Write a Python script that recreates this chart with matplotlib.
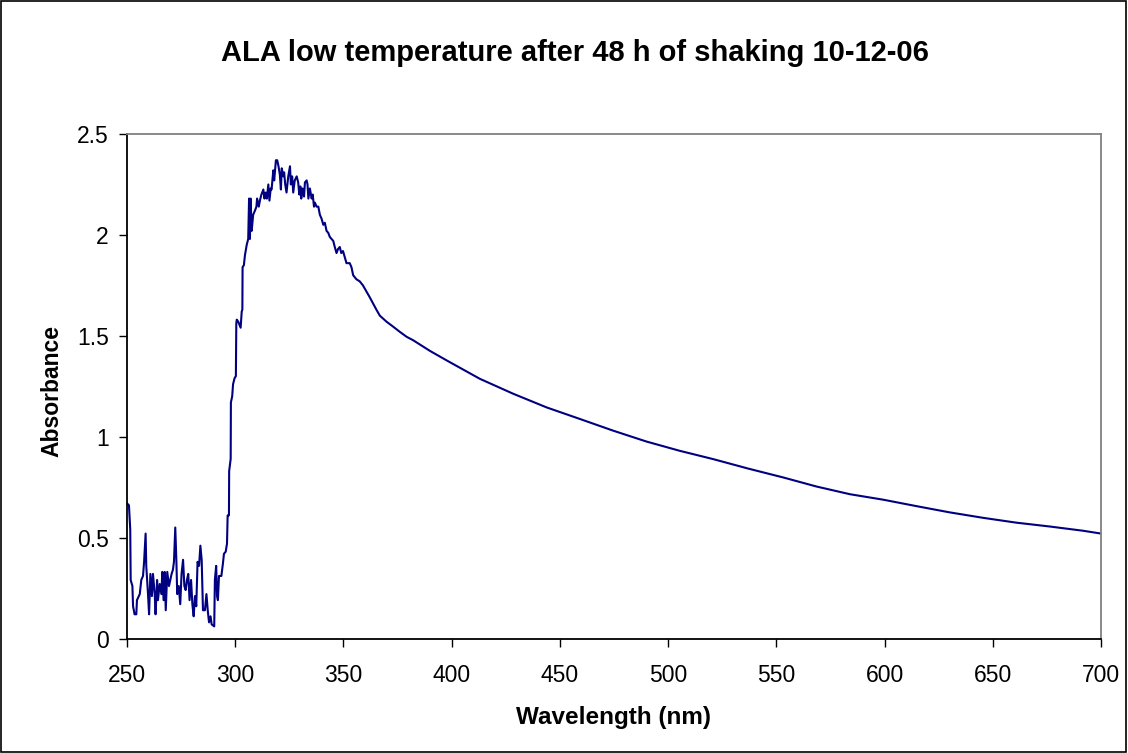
import matplotlib.pyplot as plt
import numpy as np
from matplotlib.patches import Rectangle

plt.rcParams['font.family'] = ['Liberation Sans', 'DejaVu Sans']

# Absorbance spectrum
wavelength = [250.0, 250.9, 251.5, 251.7, 252.5, 252.8, 253.5, 254.3, 254.6, 255.9,
              256.6, 257.4, 257.9, 258.6, 258.9, 259.7, 260.2, 260.8, 261.5, 262.0,
              262.8, 263.2, 263.9, 264.3, 265.1, 265.9, 266.3, 266.9, 267.4, 267.9,
              268.6, 269.4, 270.0, 270.6, 271.2, 271.7, 272.3, 272.8, 273.2, 273.9,
              274.6, 275.2, 275.9, 276.5, 277.1, 277.7, 278.3, 278.9, 279.6, 280.2,
              280.8, 281.4, 282.0, 282.6, 283.3, 283.9, 284.5, 285.1, 286.0, 286.7,
              287.3, 287.9, 288.6, 289.1, 290.3, 290.6, 291.2, 291.6, 292.0, 292.5,
              293.6, 294.3, 294.8, 295.6, 296.2, 296.5, 297.1, 297.2, 297.9, 298.0,
              298.6, 299.0, 299.7, 300.3, 300.5, 300.7, 301.4, 302.5, 303.0, 303.3,
              303.4, 304.0, 304.5, 305.3, 306.0, 306.4, 306.8, 307.1, 307.6, 308.3,
              309.1, 309.8, 310.1, 310.9, 311.4, 312.1, 313.0, 313.5, 314.1, 314.6,
              315.3, 315.8, 316.4, 316.8, 317.6, 318.0, 318.8, 319.4, 320.0, 320.6,
              321.1, 321.5, 322.2, 322.6, 323.1, 323.7, 324.5, 325.3, 325.7, 326.3,
              326.8, 327.5, 328.4, 329.1, 329.6, 330.1, 330.5, 331.1, 331.8, 332.2,
              333.0, 333.4, 333.8, 334.5, 335.3, 335.8, 336.4, 336.8, 337.6, 338.4,
              339.1, 339.9, 340.7, 341.4, 342.2, 343.0, 343.7, 344.5, 345.3, 346.0,
              346.8, 347.5, 348.3, 349.0, 349.8, 350.6, 351.4, 352.1, 352.9, 353.7,
              354.5, 356.0, 357.5, 359.0, 360.6, 362.2, 363.7, 365.2, 366.8, 369.9,
              373.0, 376.0, 379.2, 382.2, 390.0, 397.7, 413.0, 428.4, 443.9, 459.2,
              474.6, 490.0, 505.4, 520.8, 537.0, 553.2, 568.6, 584.0, 599.3, 614.7,
              630.1, 645.5, 660.9, 676.3, 691.7, 700.0]
absorbance = [0.67, 0.66, 0.54, 0.29, 0.26, 0.16, 0.12, 0.12, 0.19, 0.22,
              0.29, 0.31, 0.38, 0.52, 0.36, 0.22, 0.12, 0.32, 0.21, 0.32,
              0.22, 0.12, 0.29, 0.19, 0.27, 0.22, 0.33, 0.19, 0.33, 0.14,
              0.33, 0.26, 0.29, 0.32, 0.34, 0.38, 0.55, 0.39, 0.22, 0.26,
              0.17, 0.32, 0.39, 0.26, 0.24, 0.29, 0.32, 0.19, 0.29, 0.17,
              0.11, 0.21, 0.16, 0.38, 0.36, 0.46, 0.39, 0.14, 0.14, 0.22,
              0.14, 0.08, 0.11, 0.07, 0.06, 0.29, 0.36, 0.21, 0.19, 0.31,
              0.31, 0.37, 0.42, 0.43, 0.47, 0.61, 0.61, 0.83, 0.89, 1.17,
              1.20, 1.26, 1.29, 1.30, 1.56, 1.58, 1.57, 1.54, 1.62, 1.63,
              1.84, 1.85, 1.90, 1.95, 1.98, 2.18, 1.98, 2.18, 2.02, 2.10,
              2.12, 2.14, 2.18, 2.14, 2.17, 2.20, 2.225, 2.18, 2.21, 2.18,
              2.25, 2.17, 2.23, 2.225, 2.32, 2.27, 2.37, 2.37, 2.34, 2.30,
              2.225, 2.33, 2.29, 2.31, 2.25, 2.21, 2.29, 2.34, 2.25, 2.29,
              2.21, 2.27, 2.29, 2.26, 2.20, 2.24, 2.18, 2.23, 2.19, 2.26,
              2.27, 2.25, 2.18, 2.23, 2.18, 2.20, 2.14, 2.16, 2.14, 2.14,
              2.10, 2.08, 2.05, 2.06, 2.02, 2.01, 1.99, 1.98, 1.97, 1.94,
              1.91, 1.93, 1.94, 1.91, 1.92, 1.89, 1.86, 1.86, 1.86, 1.84,
              1.80, 1.78, 1.77, 1.75, 1.72, 1.69, 1.66, 1.63, 1.60, 1.57,
              1.545, 1.52, 1.495, 1.478, 1.425, 1.378, 1.287, 1.213, 1.145, 1.088,
              1.030, 0.976, 0.930, 0.889, 0.842, 0.798, 0.753, 0.715, 0.688, 0.656,
              0.625, 0.598, 0.574, 0.555, 0.534, 0.520]

x_ticks = [250, 300, 350, 400, 450, 500, 550, 600, 650, 700]
y_ticks = [0, 0.5, 1, 1.5, 2, 2.5]
y_tick_labels = ['0', '0.5', '1', '1.5', '2', '2.5']

fig = plt.figure(figsize=(11.28, 7.53), dpi=100)
ax = fig.add_axes([127/1128, 1 - 638.5/753, (1101 - 127)/1128, (638.5 - 134)/753])

ax.plot(wavelength, absorbance, color='#000080', linewidth=1.5)

ax.set_xlim(250, 700)
ax.set_ylim(0, 2.5)
ax.set_xticks(x_ticks)
ax.set_xticklabels([str(t) for t in x_ticks])
ax.set_yticks(y_ticks)
ax.set_yticklabels(y_tick_labels)
ax.tick_params(axis='both', direction='out', length=6, width=1, labelsize=16.5, colors='black')
ax.tick_params(axis='x', pad=12)
ax.tick_params(axis='y', pad=7)

# excel style frame: black axes left/bottom, grey box top/right
ax.spines['left'].set_color('black')
ax.spines['bottom'].set_color('black')
ax.spines['top'].set_color('#808080')
ax.spines['right'].set_color('#808080')
for s in ax.spines.values():
    s.set_linewidth(1.3)

fig.text(575/1128, 1 - 53/753, 'ALA low temperature after 48 h of shaking 10-12-06',
         ha='center', va='center', fontsize=21, fontweight='bold')
fig.text(614/1128, 1 - 724/753, 'Wavelength (nm)', ha='center', va='baseline',
         fontsize=17.5, fontweight='bold')
fig.text(52/1128, 1 - 391/753, 'Absorbance', ha='center', va='center',
         rotation=90, fontsize=16.5, fontweight='bold')

# outer chart border
fig.patches.append(Rectangle((0.0005, 0.0008), 0.998, 0.998, transform=fig.transFigure,
                             fill=False, edgecolor='black', linewidth=1.2))

fig.savefig('out.png', dpi=100)
